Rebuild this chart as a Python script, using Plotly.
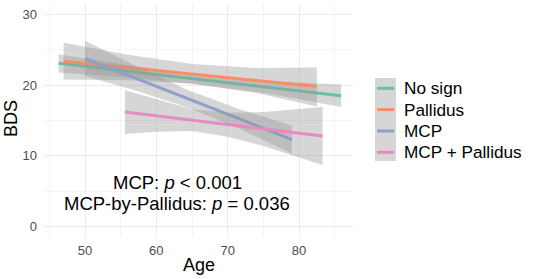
import plotly.graph_objects as go

# ---- data ----
groups = ["No sign", "Pallidus", "MCP", "MCP + Pallidus"]
colors = ["#66C2A5", "#FC8D62", "#8DA0CB", "#E78AC3"]

nosign_age = [46.3, 56, 66, 76, 85.9]
nosign_fit = [23.1, 21.97, 20.81, 19.65, 18.5]
nosign_lo = [21.8, 21.1, 20.1, 18.75, 16.9]
nosign_hi = [24.4, 22.85, 21.5, 20.55, 20.1]

pall_age = [47.0, 56, 65, 74, 82.5]
pall_fit = [23.4, 22.49, 21.58, 20.66, 19.8]
pall_lo = [20.8, 20.7, 20.2, 18.9, 17.0]
pall_hi = [26.0, 24.3, 23.0, 22.45, 22.5]

mcp_age = [50, 57, 64.5, 72, 79]
mcp_fit = [23.8, 21.02, 18.05, 15.08, 12.3]
mcp_lo = [21.3, 19.3, 16.8, 13.7, 10.3]
mcp_hi = [26.3, 22.8, 19.3, 16.5, 14.3]

mp_age = [55.6, 60, 65, 70, 75, 83.3]
mp_fit = [16.2, 15.66, 15.05, 14.43, 13.82, 12.8]
mp_lo = [13.1, 13.4, 13.5, 12.7, 11.4, 8.7]
mp_hi = [19.3, 18.0, 16.6, 16.1, 16.2, 16.9]

x_ticks = [50, 60, 70, 80]
y_ticks = [0, 10, 20, 30]
note_lines = ["MCP: <i>p</i> &lt; 0.001", "MCP-by-Pallidus: <i>p</i> = 0.036"]
note_x = 62.9
note_y = [6.2, 3.27]

series = [
    (nosign_age, nosign_fit, nosign_lo, nosign_hi),
    (pall_age, pall_fit, pall_lo, pall_hi),
    (mcp_age, mcp_fit, mcp_lo, mcp_hi),
    (mp_age, mp_fit, mp_lo, mp_hi),
]

FONT = "Liberation Sans, Arial, sans-serif"
W, H = 536, 279
ML, MR, MT, MB = 44, 183, 4, 42
PW, PH = W - ML - MR, H - MT - MB

fig = go.Figure()
for name, col, (age, fit, lo, hi) in zip(groups, colors, series):
    fig.add_trace(go.Scatter(
        x=list(age) + list(age)[::-1], y=list(hi) + list(lo)[::-1],
        fill="toself", fillcolor="rgba(153,153,153,0.4)",
        line=dict(width=0), mode="lines", hoverinfo="skip", showlegend=False))
    fig.add_trace(go.Scatter(x=age, y=fit, mode="lines", name=name,
                             line=dict(color=col, width=3), showlegend=False))

for txt, yy in zip(note_lines, note_y):
    fig.add_annotation(x=note_x, y=yy, xref="x", yref="y", text=txt,
                       showarrow=False, font=dict(family=FONT, size=18.5, color="black"))


def px(xp):
    return (xp - ML) / PW


def py(yp):
    return (H - MB - yp) / PH


# axis titles
fig.add_annotation(xref="paper", yref="paper", x=px(198.5), y=py(265), text="Age",
                   showarrow=False, xanchor="center", yanchor="middle",
                   font=dict(family=FONT, size=18, color="black"))
fig.add_annotation(xref="paper", yref="paper", x=px(10.5), y=py(118.5), text="BDS",
                   showarrow=False, xanchor="center", yanchor="middle", textangle=-90,
                   font=dict(family=FONT, size=18, color="black"))

# manual legend
fig.add_shape(type="rect", xref="paper", yref="paper",
              x0=px(375), x1=px(396), y0=py(161), y1=py(78),
              fillcolor="rgba(153,153,153,0.4)", line=dict(width=0), layer="above")
key_y = [88.3, 109.6, 131.0, 152.3]
for name, col, ky in zip(groups, colors, key_y):
    fig.add_shape(type="line", xref="paper", yref="paper",
                  x0=px(377), x1=px(394), y0=py(ky), y1=py(ky),
                  line=dict(color=col, width=3), layer="above")
    fig.add_annotation(xref="paper", yref="paper", x=px(402), y=py(ky),
                       xanchor="left", yanchor="middle", text=name, showarrow=False,
                       font=dict(family=FONT, size=17.2, color="black"))

axis_common = dict(showline=False, zeroline=False, ticks="", automargin=False,
                   gridcolor="#EBEBEB", gridwidth=1,
                   tickfont=dict(family=FONT, size=13, color="#4D4D4D"),
                   minor=dict(showgrid=True, gridcolor="#F4F4F4", gridwidth=0.6))
fig.update_xaxes(range=[44.25, 87.57], tickvals=x_ticks, ticktext=[str(v) for v in x_ticks],
                 minor_dtick=5, minor_tick0=45, ticklabelstandoff=4, **axis_common)
fig.update_yaxes(range=[-1.5, 31.5], tickvals=y_ticks, ticktext=[str(v) for v in y_ticks],
                 minor_dtick=5, minor_tick0=5, ticklabelstandoff=6, **axis_common)

fig.update_layout(width=W, height=H, margin=dict(l=ML, r=MR, t=MT, b=MB),
                  paper_bgcolor="white", plot_bgcolor="white", showlegend=False,
                  font=dict(family=FONT))
fig.write_html("out.html", config={"displayModeBar": False},
               post_script="document.body.style.margin='0';")
